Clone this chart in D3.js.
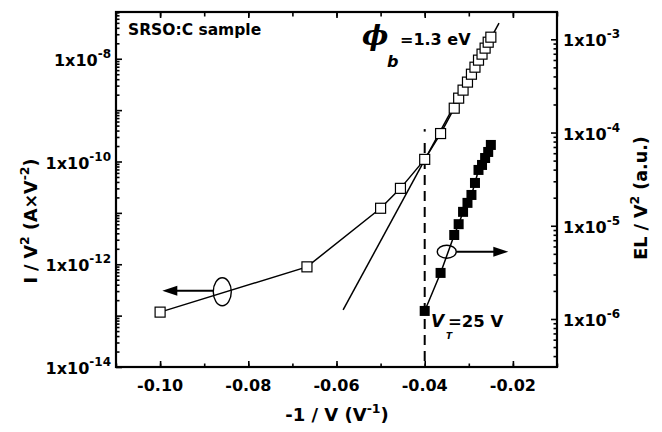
<!DOCTYPE html>
<html><head><meta charset="utf-8">
<script src="https://cdn.jsdelivr.net/npm/d3@7"></script>
<style>
body{margin:0;background:#fff}
text{font-family:"DejaVu Sans",Verdana,sans-serif;font-weight:bold;fill:#000}
</style>
</head><body>
<svg id="c" width="662" height="432"></svg>
<script>
// ---- data ----
const xOpen = [-0.1, -0.0667, -0.05, -0.0455, -0.04, -0.0364, -0.0333, -0.0323, -0.0313, -0.0303, -0.0294, -0.0286, -0.0278, -0.027, -0.0263, -0.0256, -0.025];
const yOpen = [1.17e-13, 8.9e-13, 1.23e-11, 3.0e-11, 1.1e-10, 3.5e-10, 1.09e-9, 1.71e-9, 2.45e-9, 3.51e-9, 5.0e-9, 6.85e-9, 9.4e-9, 1.23e-8, 1.61e-8, 2.10e-8, 2.63e-8];
const xFilled = [-0.04, -0.0364, -0.0333, -0.0323, -0.0313, -0.0303, -0.0294, -0.0286, -0.0278, -0.027, -0.0263, -0.0256, -0.025];
const yFilled = [1.22e-6, 3.12e-6, 7.96e-6, 1.04e-5, 1.41e-5, 1.76e-5, 2.14e-5, 2.88e-5, 3.97e-5, 4.49e-5, 5.33e-5, 6.19e-5, 7.36e-5];
const xFit = [-0.0585, -0.02315];
const yFit = [1.29e-13, 4.93e-8];
const vtX = -0.04;
const vtYTop = 4.27e-10;
const xTickValues = [-0.10, -0.08, -0.06, -0.04, -0.02];
const xTickLabels = ["-0.10", "-0.08", "-0.06", "-0.04", "-0.02"];
const xMinorValues = [-0.11, -0.10, -0.09, -0.08, -0.07, -0.06, -0.05, -0.04, -0.03, -0.02, -0.01];
const leftLabelExps = [-14, -12, -10, -8];
const leftMajorExps = [-14, -13, -12, -11, -10, -9, -8];
const rightLabelExps = [-6, -5, -4, -3];
const rightMajorExps = [-7, -6, -5, -4, -3];

const svg = d3.select("#c");
const L = 116, R = 557, T = 12, B = 367;
const x = d3.scaleLinear().domain([-0.11, -0.01]).range([L, R]);
const yL = d3.scaleLog().domain([1e-14, Math.pow(10, -7.09)]).range([B, T]);
const yR = d3.scaleLog().domain([Math.pow(10, -6.515), Math.pow(10, -2.707)]).range([B, T]);

function minors(scale, exps) {
  const out = [];
  const [d0, d1] = scale.domain();
  exps.forEach(e => { for (let k = 2; k <= 9; k++) { const v = k * Math.pow(10, e); if (v >= d0 && v <= d1) out.push(v); } });
  return out;
}
function styleAxis(g) { g.select(".domain").remove(); g.selectAll("line").attr("stroke", "#000").attr("stroke-width", 1.6); g.selectAll("text").remove(); }

const inL = (v) => v >= yL.domain()[0] && v <= yL.domain()[1];
const inR = (v) => v >= yR.domain()[0] && v <= yR.domain()[1];
svg.append("g").attr("transform", `translate(${L},0)`).call(d3.axisRight(yL).tickValues(leftMajorExps.map(e => Math.pow(10, e)).filter(inL)).tickSize(6).tickFormat("")).call(styleAxis);
svg.append("g").attr("transform", `translate(${L},0)`).call(d3.axisRight(yL).tickValues(minors(yL, [-14,-13,-12,-11,-10,-9,-8])).tickSize(3.5).tickFormat("")).call(styleAxis);
svg.append("g").attr("transform", `translate(${R},0)`).call(d3.axisLeft(yR).tickValues(rightMajorExps.map(e => Math.pow(10, e)).filter(inR)).tickSize(6).tickFormat("")).call(styleAxis);
svg.append("g").attr("transform", `translate(${R},0)`).call(d3.axisLeft(yR).tickValues(minors(yR, [-7,-6,-5,-4,-3])).tickSize(3.5).tickFormat("")).call(styleAxis);
svg.append("g").attr("transform", `translate(0,${B})`).call(d3.axisTop(x).tickValues(xTickValues).tickSize(6).tickFormat("")).call(styleAxis);
svg.append("g").attr("transform", `translate(0,${B})`).call(d3.axisTop(x).tickValues(xMinorValues).tickSize(3.5).tickFormat("")).call(styleAxis);
svg.append("g").attr("transform", `translate(0,${T})`).call(d3.axisBottom(x).tickValues(xTickValues).tickSize(6).tickFormat("")).call(styleAxis);
svg.append("g").attr("transform", `translate(0,${T})`).call(d3.axisBottom(x).tickValues(xMinorValues).tickSize(4.5).tickFormat("")).call(styleAxis);

svg.append("rect").attr("x", L).attr("y", T).attr("width", R - L).attr("height", B - T)
  .attr("fill", "none").attr("stroke", "#000").attr("stroke-width", 2.2);

// tick labels
svg.append("g").selectAll("text").data(xTickValues).join("text")
  .attr("x", d => x(d)).attr("y", 391).attr("text-anchor", "middle").attr("font-size", 16)
  .text((d, i) => xTickLabels[i]);

function powLabel(g, e, xPos, yPos, anchor) {
  const t = g.append("text").attr("x", xPos).attr("y", yPos).attr("text-anchor", anchor).attr("font-size", 16);
  t.append("tspan").text("1x10");
  t.append("tspan").attr("dy", -8).attr("font-size", 12).text(String(e));
}
const gl = svg.append("g");
leftLabelExps.forEach(e => powLabel(gl, e, 111, yL(Math.pow(10, e)) + 7, "end"));
const gr = svg.append("g");
rightLabelExps.forEach(e => powLabel(gr, e, 563, yR(Math.pow(10, e)) + 7, "start"));

// axis titles
const xt = svg.append("text").attr("x", 337).attr("y", 421).attr("text-anchor", "middle").attr("font-size", 18);
xt.append("tspan").text("-1 / V (V");
xt.append("tspan").attr("dy", -8).attr("font-size", 12.5).text("-1");
xt.append("tspan").attr("dy", 8).text(")");

const lt = svg.append("text").attr("transform", "translate(37,221) rotate(-90)").attr("text-anchor", "middle").attr("font-size", 17.5);
lt.append("tspan").text("I / V");
lt.append("tspan").attr("dy", -8).attr("font-size", 12.5).text("2");
lt.append("tspan").attr("dy", 8).text(" (A\u00d7V");
lt.append("tspan").attr("dy", -8).attr("font-size", 12.5).text("-2");
lt.append("tspan").attr("dy", 8).text(")");

const rt = svg.append("text").attr("transform", "translate(647,198) rotate(-90)").attr("text-anchor", "middle").attr("font-size", 17.5);
rt.append("tspan").text("EL / V");
rt.append("tspan").attr("dy", -8).attr("font-size", 12.5).text("2");
rt.append("tspan").attr("dy", 8).text(" (a.u.)");

// dashed VT line (small dot on top, then dashes)
svg.append("line").attr("x1", x(vtX)).attr("x2", x(vtX)).attr("y1", yL(vtYTop)).attr("y2", yL(vtYTop) + 2.5)
  .attr("stroke", "#000").attr("stroke-width", 2);
svg.append("line").attr("x1", x(vtX)).attr("x2", x(vtX)).attr("y1", yL(vtYTop) + 14).attr("y2", B)
  .attr("stroke", "#000").attr("stroke-width", 2).attr("stroke-dasharray", "10,6");

// fit line
svg.append("line").attr("x1", x(xFit[0])).attr("y1", yL(yFit[0])).attr("x2", x(xFit[1])).attr("y2", yL(yFit[1]))
  .attr("stroke", "#000").attr("stroke-width", 1.5);

// open series (left axis)
const openPts = xOpen.map((v, i) => [v, yOpen[i]]);
svg.append("path").datum(openPts).attr("fill", "none").attr("stroke", "#000").attr("stroke-width", 1.5)
  .attr("d", d3.line().x(d => x(d[0])).y(d => yL(d[1])));
svg.append("g").selectAll("rect").data(openPts).join("rect")
  .attr("x", d => x(d[0]) - 5).attr("y", d => yL(d[1]) - 5).attr("width", 10).attr("height", 10)
  .attr("fill", "#fff").attr("stroke", "#000").attr("stroke-width", 1.2);

// filled series (right axis)
const filledPts = xFilled.map((v, i) => [v, yFilled[i]]);
svg.append("path").datum(filledPts).attr("fill", "none").attr("stroke", "#000").attr("stroke-width", 1.5)
  .attr("d", d3.line().x(d => x(d[0])).y(d => yR(d[1])));
svg.append("g").selectAll("rect").data(filledPts).join("rect")
  .attr("x", d => x(d[0]) - 5).attr("y", d => yR(d[1]) - 5).attr("width", 10).attr("height", 10)
  .attr("fill", "#000");

// annotations: ellipses with arrows
const e1x = x(-0.0859), e1y = yL(Math.pow(10, -12.535));
svg.append("ellipse").attr("cx", e1x).attr("cy", e1y).attr("rx", 9).attr("ry", 14).attr("fill", "none").attr("stroke", "#000").attr("stroke-width", 1.4);
const tip1 = x(-0.0995);
svg.append("line").attr("x1", e1x - 9).attr("x2", tip1 + 10).attr("y1", e1y - 1).attr("y2", e1y - 1).attr("stroke", "#000").attr("stroke-width", 2);
svg.append("path").attr("d", `M${tip1},${e1y - 1}L${tip1 + 15},${e1y - 6}L${tip1 + 15},${e1y + 4}Z`).attr("fill", "#000");

const e2x = x(-0.035), e2y = yR(Math.pow(10, -5.278));
svg.append("ellipse").attr("cx", e2x).attr("cy", e2y).attr("rx", 9.5).attr("ry", 6.5).attr("fill", "none").attr("stroke", "#000").attr("stroke-width", 1.4);
const tip2 = x(-0.02104);
svg.append("line").attr("x1", e2x + 9.5).attr("x2", tip2 - 10).attr("y1", e2y).attr("y2", e2y).attr("stroke", "#000").attr("stroke-width", 2);
svg.append("path").attr("d", `M${tip2},${e2y}L${tip2 - 15},${e2y - 5}L${tip2 - 15},${e2y + 5}Z`).attr("fill", "#000");

// text annotations
svg.append("text").attr("x", 128).attr("y", 35).attr("font-size", 15.5).text("SRSO:C sample");
svg.append("text").attr("x", 362).attr("y", 45).attr("font-size", 28).attr("font-style", "italic")
  .style("font-family", "'DejaVu Serif',serif").text("\u03d5");
svg.append("text").attr("x", 387).attr("y", 67).attr("font-size", 16).attr("font-style", "italic").text("b");
svg.append("text").attr("x", 400).attr("y", 45).attr("font-size", 16).text("=1.3 eV");
svg.append("text").attr("x", 431).attr("y", 327).attr("font-size", 17).attr("font-style", "italic").text("V");
svg.append("text").attr("x", 446).attr("y", 339).attr("font-size", 9).attr("font-style", "italic").text("T");
svg.append("text").attr("x", 448).attr("y", 327).attr("font-size", 16.5).text("=25 V");
</script>
</body></html>
